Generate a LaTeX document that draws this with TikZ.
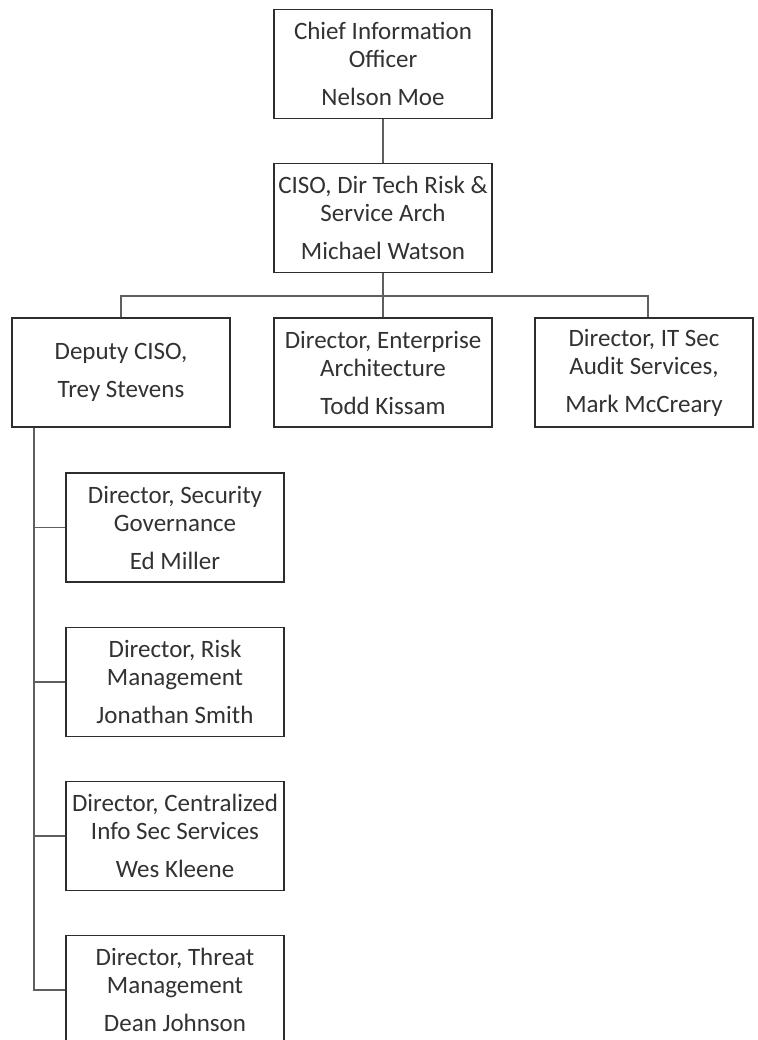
\documentclass[tikz,border=0pt]{standalone}
\usepackage{fontspec}
\setmainfont{Carlito}
\definecolor{boxline}{RGB}{45,45,45}
\definecolor{linkgray}{RGB}{95,95,95}
\definecolor{textgray}{RGB}{50,50,50}
\usetikzlibrary{calc}

\tikzset{
    orgbox/.style={draw=boxline, line width=1.8pt, minimum width=218pt, minimum height=109pt,
        inner sep=1pt, align=center, text=textgray, font=\fontsize{25}{28}\selectfont},
    link/.style={draw=linkgray, line width=1.3pt}
}

\begin{document}
\begin{tikzpicture}[x=1pt, y=-1pt]
    \useasboundingbox[fill=white] (0,0) rectangle (757,1040);
    % top of the chart
    \node[orgbox] (cio) at (383,64) {Chief Information\\Officer\\[10pt]Nelson Moe};
    \node[orgbox] (ciso) at (383,218) {CISO, Dir Tech Risk \&\\Service Arch\\[10pt]Michael Watson};
    % second row
    \node[orgbox] (deputy) at (121,372.5) {Deputy CISO,\\[10pt]Trey Stevens};
    \node[orgbox] (entarch) at (383,372.5) {Director, Enterprise\\Architecture\\[10pt]Todd Kissam};
    \node[orgbox] (itsec) at (644,372.5) {Director, IT Sec\\Audit Services,\\[10pt]Mark McCreary};
    % reports of the deputy
    \node[orgbox] (govern) at (175,527.5) {Director, Security\\Governance\\[10pt]Ed Miller};
    \node[orgbox] (riskmgmt) at (175,682) {Director, Risk\\Management\\[10pt]Jonathan Smith};
    \node[orgbox] (centsec) at (175,836) {Director, Centralized\\Info Sec Services\\[10pt]Wes Kleene};
    \node[orgbox] (threat) at (175,990) {Director, Threat\\Management\\[10pt]Dean Johnson};

    \coordinate (bus) at (0,296);
    \coordinate (trunk) at (34,0);

    \draw[link] (cio) -- (ciso);
    \draw[link] (ciso) -- (entarch);
    \draw[link] (deputy.north) |- ($(bus -| itsec.north)+(4,0)$) -- ($(itsec.north)+(4,0)$);
    \draw[link] (deputy.south -| trunk) |- (threat.west);
    \foreach \n in {govern,riskmgmt,centsec}
        \draw[link] (trunk |- \n.west) -- (\n.west);
\end{tikzpicture}
\end{document}
